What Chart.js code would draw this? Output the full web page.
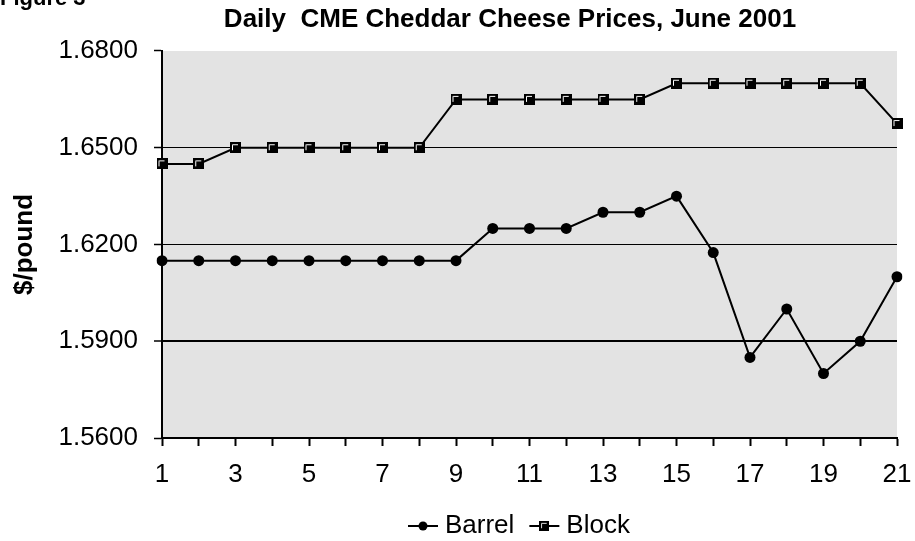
<!DOCTYPE html>
<html lang="en">
<head>
  <meta charset="UTF-8">
  <title>Daily CME Cheddar Cheese Prices, June 2001</title>
  <script src="https://cdn.jsdelivr.net/npm/chart.js"></script>
  <style>
    * { margin: 0; padding: 0; box-sizing: border-box; }
    body { background: #fff; width: 915px; height: 541px; overflow: hidden; }
    #wrap { position: relative; width: 915px; height: 541px; }
  </style>
</head>
<body>
  <div id="wrap"><canvas id="chart" width="915" height="541"></canvas></div>
  <script>
    // trading days of June 2001
    const days = ['1', '2', '3', '4', '5', '6', '7', '8', '9', '10', '11',
      '12', '13', '14', '15', '16', '17', '18', '19', '20', '21'];
    // $/pound
    const barrel = [1.615, 1.615, 1.615, 1.615, 1.615, 1.615, 1.615, 1.615, 1.615, 1.625, 1.625,
      1.625, 1.630, 1.630, 1.635, 1.6175, 1.585, 1.600, 1.580, 1.590, 1.610];
    const block = [1.645, 1.645, 1.650, 1.650, 1.650, 1.650, 1.650, 1.650, 1.665, 1.665, 1.665,
      1.665, 1.665, 1.665, 1.670, 1.670, 1.670, 1.670, 1.670, 1.670, 1.6575];
    const yMin = 1.56, yMax = 1.68, yStep = 0.03;

    const FONT = 'Arial, "Liberation Sans", sans-serif';

    // the block marker: dark square with a thin white inner edge
    function blockMarker() {
      const c = document.createElement('canvas');
      c.width = 11; c.height = 11;
      const g = c.getContext('2d');
      g.fillStyle = '#000';
      g.fillRect(0, 0, 11, 11);
      g.strokeStyle = '#fff';
      g.lineWidth = 1;
      g.beginPath();
      g.moveTo(2.5, 8); g.lineTo(2.5, 2.5); g.lineTo(8, 2.5);
      g.stroke();
      return c;
    }
    const squareImg = blockMarker();

    const bgPlugin = {
      id: 'bg',
      beforeDraw(chart) {
        const { ctx, chartArea: a } = chart;
        ctx.save();
        ctx.fillStyle = '#e3e3e3';
        ctx.fillRect(a.left, a.top, a.right - a.left, a.bottom - a.top);
        ctx.restore();
      }
    };

    const textPlugin = {
      id: 'texts',
      afterDraw(chart) {
        const { ctx } = chart;
        ctx.save();
        ctx.fillStyle = '#000';
        ctx.textBaseline = 'alphabetic';
        ctx.font = 'bold 22px ' + FONT;
        ctx.textAlign = 'left';
        ctx.fillText('Figure 3', 0, 5);
        ctx.font = 'bold 26px ' + FONT;
        ctx.textAlign = 'center';
        ctx.fillText('Daily  CME Cheddar Cheese Prices, June 2001', 510, 27);

        // legend: line + marker + label
        ctx.font = '26px ' + FONT;
        ctx.textAlign = 'left';
        ctx.textBaseline = 'middle';
        const y = 526;
        let x = 408;
        const items = [{ t: 'Barrel', m: 'circle' }, { t: 'Block', m: 'square' }];
        items.forEach(it => {
          ctx.strokeStyle = '#000';
          ctx.lineWidth = 2;
          ctx.beginPath();
          ctx.moveTo(x, y); ctx.lineTo(x + 30, y);
          ctx.stroke();
          if (it.m === 'circle') {
            ctx.beginPath();
            ctx.arc(x + 15, y, 4.5, 0, Math.PI * 2);
            ctx.fillStyle = '#000';
            ctx.fill();
          } else {
            ctx.drawImage(squareImg, x + 10, y - 5, 10, 10);
          }
          ctx.fillStyle = '#000';
          ctx.fillText(it.t, x + 37, y);
          x += 37 + ctx.measureText(it.t).width + 15;
        });
        ctx.restore();
      }
    };

    new Chart(document.getElementById('chart'), {
      type: 'line',
      data: {
        labels: days,
        datasets: [{
          label: 'Barrel',
          data: barrel,
          borderColor: '#000',
          borderWidth: 2,
          backgroundColor: '#000',
          pointStyle: 'circle',
          pointRadius: 5.5,
          pointBorderWidth: 0,
          tension: 0
        }, {
          label: 'Block',
          data: block,
          borderColor: '#000',
          borderWidth: 2,
          pointStyle: squareImg,
          tension: 0
        }]
      },
      options: {
        responsive: false,
        animation: false,
        layout: { padding: { top: 51, right: 18, bottom: 45, left: 0 } },
        plugins: {
          legend: { display: false },
          title: { display: false },
          tooltip: { enabled: false }
        },
        scales: {
          x: {
            type: 'category',
            offset: false,
            afterFit(scale) {
              scale.height = 58;
              scale.paddingLeft = 0;
              scale.paddingRight = 0;
            },
            border: { display: true, color: '#000', width: 2 },
            grid: { drawOnChartArea: false, tickLength: 8, tickColor: '#000', tickWidth: 2 },
            ticks: {
              autoSkip: false,
              maxRotation: 0,
              padding: 13,
              color: '#000',
              font: { family: FONT, size: 26 },
              callback: (v, i) => (i % 2 === 0 ? days[i] : '')
            }
          },
          y: {
            min: yMin,
            max: yMax,
            afterFit(scale) { scale.width = 162; },
            afterBuildTicks(scale) {
              const t = [];
              for (let k = 0; k <= Math.round((yMax - yMin) / yStep); k++) t.push({ value: yMin + k * yStep });
              scale.ticks = t;
            },
            border: { display: true, color: '#000', width: 2 },
            grid: {
              color: c => (c.tick && Math.abs(c.tick.value - yMax) < 1e-6 ? 'rgba(0,0,0,0)' : '#000'),
              lineWidth: c => (c.tick && Math.abs(c.tick.value - 1.59) < 1e-6 ? 2 : 1),
              tickColor: '#000',
              tickWidth: 1.5,
              tickLength: 8
            },
            ticks: {
              padding: 16,
              color: '#000',
              font: { family: FONT, size: 26 },
              callback: v => Number(v).toFixed(4)
            },
            title: {
              display: true,
              text: '$/pound',
              color: '#000',
              padding: { top: 9, bottom: 0 },
              font: { family: FONT, size: 26, weight: 'bold' }
            }
          }
        }
      },
      plugins: [bgPlugin, textPlugin]
    });
  </script>
</body>
</html>
